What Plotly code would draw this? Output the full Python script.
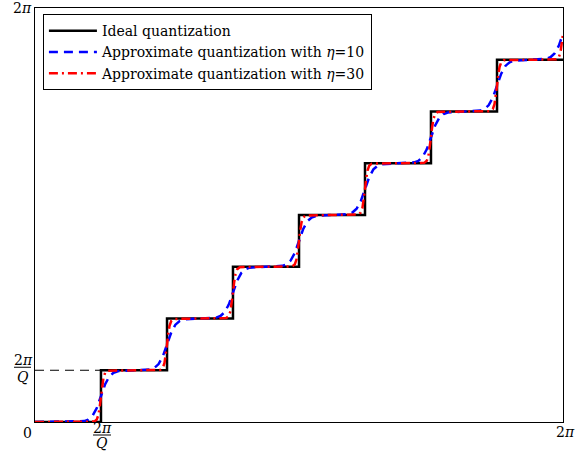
import plotly.graph_objects as go

TWO_PI = 6.2832
STEP = 0.7854  # 2*pi/Q with Q = 8

# Ideal quantization (staircase)
ideal_x = [0.0, 0.785, 1.571, 2.356, 3.142, 3.927, 4.712, 5.498, 6.283]
ideal_y = [0.0, 0.785, 1.571, 2.356, 3.142, 3.927, 4.712, 5.498, 5.498]

# Approximate quantization, eta = 10
eta10_x = [0.0,
           0.585, 0.635, 0.685, 0.735, 0.765, 0.785, 0.805, 0.835, 0.885, 0.935, 0.985,
           1.371, 1.421, 1.471, 1.521, 1.551, 1.571, 1.591, 1.621, 1.671, 1.721, 1.771,
           2.156, 2.206, 2.256, 2.306, 2.336, 2.356, 2.376, 2.406, 2.456, 2.506, 2.556,
           2.942, 2.992, 3.042, 3.092, 3.122, 3.142, 3.162, 3.192, 3.242, 3.292, 3.342,
           3.727, 3.777, 3.827, 3.877, 3.907, 3.927, 3.947, 3.977, 4.027, 4.077, 4.127,
           4.512, 4.562, 4.612, 4.662, 4.692, 4.712, 4.732, 4.762, 4.812, 4.862, 4.912,
           5.298, 5.348, 5.398, 5.448, 5.478, 5.498, 5.518, 5.548, 5.598, 5.648, 5.698,
           6.083, 6.133, 6.183, 6.233, 6.263, 6.283]
eta10_y = [0.0,
           0.014, 0.037, 0.094, 0.211, 0.315, 0.393, 0.471, 0.574, 0.692, 0.748, 0.771,
           0.799, 0.822, 0.879, 0.996, 1.100, 1.178, 1.256, 1.359, 1.477, 1.533, 1.556,
           1.585, 1.608, 1.665, 1.782, 1.886, 1.964, 2.042, 2.145, 2.263, 2.319, 2.342,
           2.370, 2.393, 2.450, 2.567, 2.671, 2.749, 2.827, 2.930, 3.048, 3.104, 3.127,
           3.156, 3.179, 3.236, 3.353, 3.457, 3.535, 3.613, 3.716, 3.834, 3.890, 3.913,
           3.941, 3.964, 4.021, 4.138, 4.242, 4.320, 4.398, 4.501, 4.619, 4.675, 4.698,
           4.726, 4.749, 4.806, 4.923, 5.027, 5.105, 5.183, 5.286, 5.404, 5.460, 5.483,
           5.512, 5.535, 5.592, 5.709, 5.813, 5.891]

# Approximate quantization, eta = 30
eta30_x = [0.0,
           0.705, 0.735, 0.755, 0.770, 0.785, 0.800, 0.815, 0.835, 0.865,
           1.491, 1.521, 1.541, 1.556, 1.571, 1.586, 1.601, 1.621, 1.651,
           2.276, 2.306, 2.326, 2.341, 2.356, 2.371, 2.386, 2.406, 2.436,
           3.062, 3.092, 3.112, 3.127, 3.142, 3.157, 3.172, 3.192, 3.222,
           3.847, 3.877, 3.897, 3.912, 3.927, 3.942, 3.957, 3.977, 4.007,
           4.632, 4.662, 4.682, 4.697, 4.712, 4.727, 4.742, 4.762, 4.792,
           5.418, 5.448, 5.468, 5.483, 5.498, 5.513, 5.528, 5.548, 5.578,
           6.203, 6.233, 6.253, 6.268, 6.283]
eta30_y = [0.0,
           0.006, 0.037, 0.111, 0.227, 0.393, 0.558, 0.674, 0.748, 0.779,
           0.791, 0.822, 0.896, 1.012, 1.178, 1.343, 1.459, 1.533, 1.564,
           1.577, 1.608, 1.682, 1.798, 1.964, 2.129, 2.245, 2.319, 2.350,
           2.362, 2.393, 2.467, 2.583, 2.749, 2.914, 3.030, 3.104, 3.135,
           3.148, 3.179, 3.253, 3.369, 3.535, 3.700, 3.816, 3.890, 3.921,
           3.933, 3.964, 4.038, 4.154, 4.320, 4.485, 4.601, 4.675, 4.706,
           4.718, 4.749, 4.823, 4.939, 5.105, 5.270, 5.386, 5.460, 5.491,
           5.504, 5.535, 5.609, 5.725, 5.891]

guide_x = [0.0, STEP]
guide_y = [STEP, STEP]

legend_names = ["Ideal quantization",
                "Approximate quantization with <i>η</i>=10",
                "Approximate quantization with <i>η</i>=30"]

FONT = "DejaVu Serif"

fig = go.Figure()
fig.add_trace(go.Scatter(x=guide_x, y=guide_y, mode="lines", showlegend=False,
                         line=dict(color="black", width=1, dash="9px,6px"), hoverinfo="skip"))
fig.add_trace(go.Scatter(x=ideal_x, y=ideal_y, mode="lines", name=legend_names[0],
                         line=dict(color="black", width=2.5, shape="hv")))
fig.add_trace(go.Scatter(x=eta10_x, y=eta10_y, mode="lines", name=legend_names[1],
                         line=dict(color="#0000ff", width=2.5, dash="9px,6px")))
fig.add_trace(go.Scatter(x=eta30_x, y=eta30_y, mode="lines", name=legend_names[2],
                         line=dict(color="#ff0000", width=2.5, dash="9px,4px,2px,4px")))

axis_common = dict(range=[0, TWO_PI], showgrid=False, zeroline=False, showticklabels=False,
                   ticks="", showline=True, linecolor="black", linewidth=1, mirror=True)

fig.update_layout(
    width=587, height=457,
    margin=dict(l=35, r=24, t=8, b=35),
    paper_bgcolor="white", plot_bgcolor="white",
    font=dict(family=FONT, size=14, color="black"),
    xaxis=axis_common, yaxis=axis_common,
    showlegend=True,
    legend=dict(x=0.015, y=0.985, xanchor="left", yanchor="top",
                bgcolor="white", bordercolor="black", borderwidth=1,
                font=dict(family=FONT, size=14), tracegroupgap=0,
                itemwidth=48),
)

lab = dict(family=FONT, size=14, color="black")
ann = [
    dict(x=0, y=0, text="0", xshift=-8, yshift=-11),
    dict(x=0, y=TWO_PI, text="2<i>π</i>", xshift=-13, yshift=0),
    dict(x=0, y=STEP, text="2<i>π</i>", xshift=-12, yshift=10),
    dict(x=0, y=STEP, text="<i>Q</i>", xshift=-12, yshift=-7),
    dict(x=STEP, y=0, text="2<i>π</i>", xshift=1, yshift=-6),
    dict(x=STEP, y=0, text="<i>Q</i>", xshift=1, yshift=-21),
    dict(x=TWO_PI, y=0, text="2<i>π</i>", xshift=2, yshift=-10),
]
for a in ann:
    fig.add_annotation(xref="x", yref="y", showarrow=False, font=lab,
                       xanchor="center", yanchor="middle", **a)

# fraction bars
frac = STEP / TWO_PI
fig.add_shape(type="line", xref="paper", yref="paper", xsizemode="pixel", ysizemode="pixel",
              xanchor=0, yanchor=frac, x0=-21, x1=-4, y0=3, y1=3,
              line=dict(color="black", width=1))
fig.add_shape(type="line", xref="paper", yref="paper", xsizemode="pixel", ysizemode="pixel",
              xanchor=frac, yanchor=0, x0=-8, x1=10, y0=-13, y1=-13,
              line=dict(color="black", width=1))

# remove the default 8px page margin so the figure sits at the window's corner
fig.write_html("out.html", config={"displayModeBar": False},
               post_script="document.body.style.margin='0';")
